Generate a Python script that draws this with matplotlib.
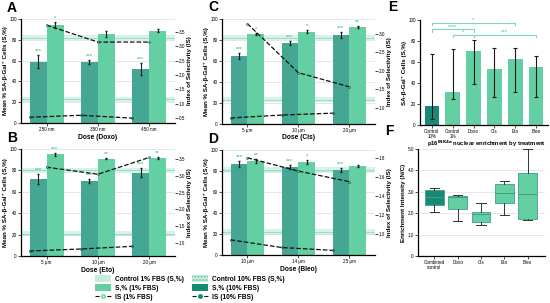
import numpy as np
import matplotlib.pyplot as plt
from matplotlib.patches import Patch
from matplotlib.lines import Line2D

plt.rcParams['font.family'] = ['Liberation Sans', 'DejaVu Sans']

DARK = '#45a693'
LIGHT = '#63cfa3'
DARK_E = '#178a76'
STAR = '#5fcfae'
BAND = '#8fdcbf'

# A: Doxo
doxo_doses = ['250 nm', '350 nm', '450 nm']
doxo_s10 = [59, 59, 52]
doxo_s10_err = [6, 2, 6]
doxo_s1 = [94, 86, 89]
doxo_s1_err = [3, 3, 1]
doxo_is10 = [0.53, 0.6, 0.5]
doxo_is1 = [3.74, 3.15, 3.15]
doxo_st10 = ['***', '***', '***']
doxo_st1 = ['*', '', '']

# B: Eto
eto_doses = ['5 μm', '10 μm', '20 μm']
eto_s10 = [72, 70, 78]
eto_s10_err = [5, 2, 4]
eto_s1 = [95, 91, 92]
eto_s1_err = [1.5, 0.7, 1]
eto_is10 = [0.76, 0.82, 0.9]
eto_is1 = [3.26, 3.05, 3.55]
eto_st10 = ['***', '***', '***']
eto_st1 = ['***', '**', '**']

# C: Cis
cis_doses = ['5 μm', '10 μm', '20 μm']
cis_s10 = [65, 77, 85]
cis_s10_err = [3, 2, 3]
cis_s1 = [86, 88, 92]
cis_s1_err = [1, 1, 1]
cis_is10 = [0.73, 0.81, 0.86]
cis_is1 = [3.27, 1.95, 1.57]
cis_st10 = ['***', '***', '***']
cis_st1 = ['*', '*', '**']

# D: Bleo
bleo_doses = ['10 μm', '14 μm', '25 μm']
bleo_s10 = [87, 84, 81]
bleo_s10_err = [3, 2, 2]
bleo_s1 = [90, 89, 85]
bleo_s1_err = [2, 2, 1]
bleo_is10 = [0.94, 0.86, 0.83]
bleo_is1 = [1.8, 1.66, 1.55]
bleo_st10 = ['***', '***', '***']
bleo_st1 = ['**', '*', '']

# E
e_labels = ['Control\n10%', 'Control\n1%', 'Doxo', 'Cis', 'Eto', 'Bleo']
e_means = [18, 31, 70, 53, 63, 55]
e_low = [6, 25, 39, 27, 31, 27]
e_high = [68, 72, 81, 73, 73, 66]
e_brackets = [(0, 4, '*', 97), (0, 2, '****', 91), (1, 2, '*', 86), (2, 5, '***', 86)]

# F
f_labels = ['Combined\ncontrol', 'Doxo', 'Cis', 'Eto', 'Bleo']
f_whislo = [2.08, 1.63, 1.43, 1.94, 1.7]
f_q1 = [2.38, 2.22, 1.59, 2.49, 1.75]
f_med = [2.75, 2.78, 1.98, 2.94, 2.89]
f_q3 = [3.1, 2.82, 2.06, 3.37, 3.89]
f_whishi = [3.2, 2.84, 2.46, 3.49, 5.0]

fig = plt.figure(figsize=(5.5, 3.03), dpi=100)

TICK = 3.3
LAB = 4.5


def style(ax):
    ax.tick_params(labelsize=TICK, length=2, width=0.5, pad=1)
    for s in ['top', 'right']:
        ax.spines[s].set_visible(False)
    for s in ['left', 'bottom']:
        ax.spines[s].set_linewidth(0.9)


def bar_panel(rect, doses, s10, s10_err, s1, s1_err, is10, is1, st10, st1,
              c1, c10, is_lim, is_ticks, xlabel, letter):
    ax = fig.add_axes(rect)
    x = np.arange(len(doses))
    w = 0.33
    ax.axhspan(c1 - 2.5, c1 + 2.5, color=BAND, alpha=0.35, lw=0, zorder=1)
    ax.axhline(c1, color=BAND, lw=0.6, zorder=1)
    ax.axhspan(c10 - 2.5, c10 + 2.5, color=BAND, alpha=0.35, lw=0, zorder=1)
    ax.axhline(c10, color=BAND, lw=0.6, zorder=1)
    ax.bar(x - w / 2, s10, w, color=DARK, zorder=2)
    ax.bar(x + w / 2, s1, w, color=LIGHT, zorder=2)
    ax.errorbar(x - w / 2, s10, yerr=s10_err, fmt='none', ecolor='#1a1a1a',
                elinewidth=0.8, capsize=0.8, zorder=3)
    ax.errorbar(x + w / 2, s1, yerr=s1_err, fmt='none', ecolor='#1a1a1a',
                elinewidth=0.8, capsize=0.8, zorder=3)
    for xi, v, e, s in zip(x - w / 2, s10, s10_err, st10):
        ax.text(xi, v + e + 1, s, ha='center', va='bottom', fontsize=4.3,
                color=STAR, fontweight='bold')
    for xi, v, e, s in zip(x + w / 2, s1, s1_err, st1):
        ax.text(xi, v + e + 1, s, ha='center', va='bottom', fontsize=4.3,
                color=STAR, fontweight='bold')
    ax.set_xlim(-0.5, 2.5)
    ax.set_ylim(0, 100)
    ax.set_yticks(range(0, 101, 20))
    ax.set_xticks(x)
    ax.set_xticklabels(doses)
    ax.yaxis.grid(True, color='#e3e3e3', lw=0.6)
    ax.set_axisbelow(True)
    style(ax)
    ax.set_ylabel('Mean % SA-β-Gal⁺ Cells (S,%)', fontsize=LAB,
                  fontweight='bold', labelpad=1)
    ax.set_xlabel(xlabel, fontsize=4.8, fontweight='bold', labelpad=1)
    ax2 = ax.twinx()
    ax2.plot(x - w, is10, '--o', color='#111111', lw=0.9, ms=1.4,
             mfc=DARK_E, mec='#111111', mew=0.3)
    ax2.plot(x, is1, '--o', color='#111111', lw=0.9, ms=1.4,
             mfc=LIGHT, mec='#111111', mew=0.3)
    ax2.set_ylim(is_lim)
    ax2.set_yticks(is_ticks)
    style(ax2)
    ax2.spines['left'].set_visible(False)
    ax2.spines['bottom'].set_visible(False)
    ax2.set_ylabel('Index of Selectivity (IS)', fontsize=LAB,
                   fontweight='bold', labelpad=1)
    fig.text(rect[0] - 0.025, rect[1] + rect[3] + 0.015, letter, fontsize=10,
             fontweight='bold', va='bottom')
    return ax


bar_panel([0.038, 0.594, 0.28, 0.343], doxo_doses, doxo_s10, doxo_s10_err,
          doxo_s1, doxo_s1_err, doxo_is10, doxo_is1, doxo_st10, doxo_st1,
          82, 23, (0.33, 3.95), np.arange(0.5, 3.51, 0.5), 'Dose (Doxo)', 'A')
bar_panel([0.038, 0.155, 0.28, 0.353], eto_doses, eto_s10, eto_s10_err,
          eto_s1, eto_s1_err, eto_is10, eto_is1, eto_st10, eto_st1,
          80, 21, (0.61, 3.8), np.arange(1.0, 3.51, 0.5), 'Dose (Eto)', 'B')
bar_panel([0.4036, 0.591, 0.278, 0.3465], cis_doses, cis_s10, cis_s10_err,
          cis_s1, cis_s1_err, cis_is10, cis_is1, cis_st10, cis_st1,
          82, 23, (0.57, 3.4), np.arange(1.0, 3.01, 0.5), 'Dose (Cis)', 'C')
bar_panel([0.4036, 0.158, 0.278, 0.3465], bleo_doses, bleo_s10, bleo_s10_err,
          bleo_s1, bleo_s1_err, bleo_is10, bleo_is1, bleo_st10, bleo_st1,
          81, 22, (0.78, 1.88), np.arange(1.0, 1.81, 0.2), 'Dose (Bleo)', 'D')

# E
axe = fig.add_axes([0.7636, 0.5875, 0.2327, 0.3465])
xe = np.arange(len(e_labels))
e_colors = [DARK_E] + [LIGHT] * (len(e_labels) - 1)
axe.bar(xe, e_means, 0.7, color=e_colors, zorder=2)
yerr = [np.array(e_means) - np.array(e_low), np.array(e_high) - np.array(e_means)]
axe.errorbar(xe, e_means, yerr=yerr, fmt='none', ecolor='#1a1a1a',
             elinewidth=0.8, capsize=1.5, capthick=0.8, zorder=3)
for a, b, s, y in e_brackets:
    axe.plot([a, a, b, b], [y - 2, y, y, y - 2], color='#7fd6b6', lw=0.8,
             clip_on=False)
    axe.text((a + b) / 2, y, s, ha='center', va='bottom', fontsize=4.3,
             color='#7fd6b6', fontweight='bold')
axe.set_xlim(-0.57, 5.57)
axe.set_ylim(0, 100)
axe.set_yticks(range(0, 101, 20))
axe.set_xticks(xe)
axe.set_xticklabels(e_labels, linespacing=0.9)
style(axe)
axe.set_ylabel('SA-β-Gal⁺ Cells (S,%)', fontsize=LAB, fontweight='bold',
               labelpad=1)
fig.text(0.705, 0.955, 'E', fontsize=10, fontweight='bold', va='bottom')

# F
axf = fig.add_axes([0.76, 0.155, 0.231, 0.353])
stats = []
for lab, lo, q1, med, q3, hi in zip(f_labels, f_whislo, f_q1, f_med, f_q3, f_whishi):
    stats.append(dict(label=lab, whislo=lo, q1=q1, med=med, q3=q3, whishi=hi))
bp = axf.bxp(stats, positions=np.arange(len(stats)), widths=0.8,
             patch_artist=True, showfliers=False,
             boxprops=dict(lw=0.6, edgecolor='#3f9f86'),
             medianprops=dict(color='#3f9f86', lw=0.7),
             whiskerprops=dict(color='#333333', lw=0.7),
             capprops=dict(color='#333333', lw=0.7))
for i, box in enumerate(bp['boxes']):
    box.set_facecolor(DARK_E if i == 0 else LIGHT)
    box.set_zorder(2)
axf.set_xlim(-0.7, 4.75)
axf.set_ylim(0, 5.0)
axf.set_yticks([0, 1, 2, 3, 4, 5])
axf.set_yticklabels(['0', '1.0', '2.0', '3.0', '4.0', '5.0'])
axf.yaxis.grid(True, color='#e3e3e3', lw=0.6)
axf.set_axisbelow(True)
axf.set_xticklabels(f_labels, linespacing=0.9)
style(axf)
axf.set_ylabel('Enrichment Intensity (N/C)', fontsize=LAB, fontweight='bold',
               labelpad=1)
axf.set_title(r'p16$^{\mathbf{INK4a}}$ nuclear enrichment by treatment',
              fontsize=4.2, fontweight='bold', pad=2, x=0.54)
fig.text(0.7, 0.545, 'F', fontsize=10, fontweight='bold', va='bottom')

# legend
handles = [
    Patch(facecolor=BAND, alpha=0.5, hatch='.....', edgecolor='#bfeedd', lw=0),
    Patch(facecolor=LIGHT),
    Line2D([], [], ls='--', color='#111111', marker='o', ms=2.5, lw=0.8,
           mfc='white', mec=LIGHT),
    Patch(facecolor=BAND, alpha=0.5, hatch='.....', edgecolor='#3f9f86', lw=0),
    Patch(facecolor=DARK_E),
    Line2D([], [], ls='--', color='#111111', marker='o', ms=2.5, lw=0.8,
           mfc=DARK_E, mec=DARK_E),
]
labels = ['Control 1% FBS (S,%)', 'S,% (1% FBS)', 'IS (1% FBS)',
          'Control 10% FBS (S,%)', 'S,% (10% FBS)', 'IS (10% FBS)']
fig.legend(handles, labels, loc='center', bbox_to_anchor=(0.345, 0.05),
           ncol=2, frameon=False, prop=dict(size=4.8, weight='bold'),
           handlelength=2.4, handleheight=1.2, columnspacing=1.2,
           labelspacing=0.2, handletextpad=0.6)

fig.savefig('out.png', dpi=100)
